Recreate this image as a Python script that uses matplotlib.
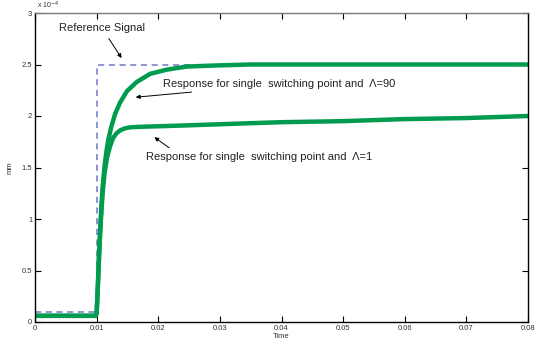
import numpy as np
import matplotlib.pyplot as plt

plt.rcParams['font.family'] = ['Liberation Sans', 'DejaVu Sans']

# reference signal (x 1e-4 mm)
t_ref = [0, 0.01, 0.01, 0.08]
ref = [0.1, 0.1, 2.5, 2.5]

# response, Lambda = 90
t_90 = [0, 0.0098, 0.0100, 0.0102, 0.0104, 0.0106, 0.0108, 0.0110, 0.0113, 0.0116,
        0.0119, 0.0124, 0.0130, 0.0138, 0.0149, 0.0165, 0.0187, 0.0214, 0.0246,
        0.0290, 0.0350, 0.0500, 0.0650, 0.0800]
r_90 = [0.06, 0.06, 0.08, 0.35, 0.65, 0.92, 1.15, 1.33, 1.52, 1.66,
        1.77, 1.90, 2.02, 2.13, 2.24, 2.33, 2.41, 2.45, 2.48,
        2.49, 2.50, 2.50, 2.50, 2.50]

# response, Lambda = 1
t_1 = [0, 0.0098, 0.0100, 0.0102, 0.0104, 0.0106, 0.0108, 0.0110, 0.0113, 0.0117,
       0.0122, 0.0127, 0.0132, 0.0138, 0.0146, 0.0154, 0.0170, 0.0198, 0.0252,
       0.0300, 0.0400, 0.0500, 0.0600, 0.0700, 0.0800]
r_1 = [0.06, 0.06, 0.08, 0.35, 0.65, 0.90, 1.10, 1.27, 1.45, 1.60,
       1.71, 1.79, 1.83, 1.86, 1.88, 1.89, 1.895, 1.90, 1.91,
       1.92, 1.94, 1.95, 1.97, 1.98, 2.00]

green = '#009b4e'

fig = plt.figure(figsize=(5.37, 3.46), dpi=100)
ax = fig.add_axes([35/537, 24/346, 493/537, 309/346])

ax.plot(t_ref, ref, '--', color='#7075c8', lw=1.1, dashes=(4, 3))
ax.plot(t_1, r_1, color=green, lw=3.2, solid_joinstyle='round')
ax.plot(t_90, r_90, color=green, lw=3.2, solid_joinstyle='round')

ax.set_xlim(0, 0.08)
ax.set_ylim(0, 3)
ax.set_xticks(np.arange(0, 0.081, 0.01))
ax.set_xticklabels(['0', '0.01', '0.02', '0.03', '0.04', '0.05', '0.06', '0.07', '0.08'])
ax.set_yticks([0, 0.5, 1, 1.5, 2, 2.5, 3])
ax.set_yticklabels(['0', '0.5', '1', '1.5', '2', '2.5', '3'])
ax.tick_params(direction='in', length=4, width=0.8, labelsize=5.5, pad=2,
               top=True, right=True, labelcolor='#333333')
for s in ax.spines.values():
    s.set_linewidth(1.0)
ax.spines['top'].set_color('#777777')

ax.set_xlabel('Time', fontsize=5.5, labelpad=1, color='#333333')
ax.set_ylabel('mm', fontsize=5.5, labelpad=6, color='#333333')
ax.text(0.0003, 3.015, r'x 10$^{-4}$', fontsize=5, ha='left', va='bottom', color='#333333')

arrow = dict(arrowstyle='-|>', color='black', lw=0.7, mutation_scale=6)
ax.annotate('Reference Signal', xy=(0.0143, 2.54), xytext=(0.0109, 2.85),
            fontsize=8, ha='center', va='center', color='#222222', arrowprops=arrow)
ax.annotate('Response for single  switching point and  \u039b=90', xy=(0.0159, 2.18),
            xytext=(0.0208, 2.31), fontsize=8, ha='left', va='center',
            color='#222222', arrowprops=arrow)
ax.annotate('Response for single  switching point and  \u039b=1', xy=(0.0190, 1.81),
            xytext=(0.0180, 1.60), fontsize=8, ha='left', va='center',
            color='#222222', arrowprops=dict(arrowstyle='-|>', color='black', lw=0.7,
                                             mutation_scale=6, relpos=(0.13, 1.0)))

fig.savefig('out.png', dpi=100)
